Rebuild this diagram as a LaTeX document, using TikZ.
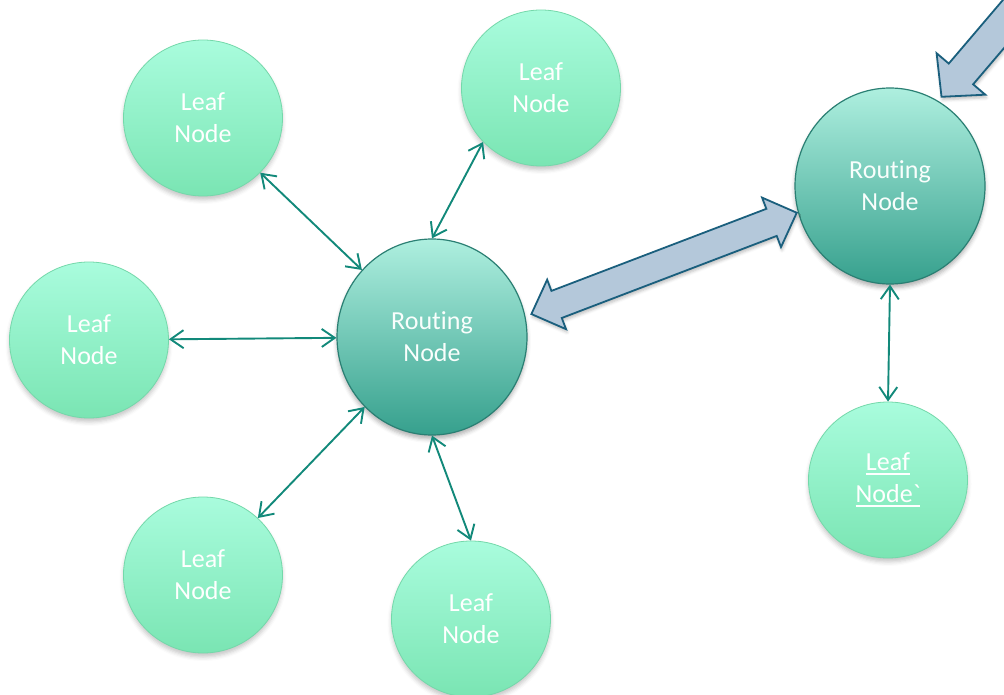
\documentclass[tikz,border=0pt]{standalone}
\usepackage{fontspec}
\newfontfamily\calib{Carlito}[RawFeature={-liga;-clig;-dlig}]
\usetikzlibrary{arrows.meta,calc,shapes.geometric,shadows.blur}

\definecolor{leaftop}{HTML}{A9FCDD}
\definecolor{leafbot}{HTML}{7AE5B3}
\definecolor{leafrim}{HTML}{74D8AA}
\definecolor{routetop}{HTML}{AEEFDF}
\definecolor{routemid}{HTML}{86D6C3}
\definecolor{routebot}{HTML}{36A08D}
\definecolor{routerim}{HTML}{2A7F73}
\definecolor{linkteal}{HTML}{12897A}
\definecolor{blockfill}{HTML}{B4C8DA}
\definecolor{blockrim}{HTML}{1A5F7D}

% underlined word with a heavier rule
\newcommand\heavyul[1]{\setbox0\hbox{#1}\rlap{\rule[-4pt]{\wd0}{1.6pt}}\box0}
% router caption, with t and i kept apart
\newcommand\routerlabel{\raisebox{-2pt}{Rout\kern0pt ing}\\\raisebox{-2pt}{Node}}

\tikzset{
  labelfont/.style={font=\calib\fontsize{26}{32}\selectfont, align=center},
  leaf/.style={ellipse, minimum width=159pt, minimum height=156pt, inner sep=0pt,
    top color=leaftop, bottom color=leafbot, draw=leafrim, line width=0.8pt,
    text=white, labelfont,
    blur shadow={shadow xshift=0pt, shadow yshift=-4pt, shadow opacity=22, shadow blur radius=4pt}},
  router/.style={ellipse, minimum width=190pt, minimum height=196pt, inner sep=0pt,
    top color=routetop, middle color=routemid, bottom color=routebot,
    draw=routerim, line width=1.2pt,
    text=white!92!routetop, labelfont,
    blur shadow={shadow xshift=0pt, shadow yshift=-4pt, shadow opacity=30, shadow blur radius=4pt}},
  link/.style={draw=linkteal, line width=1.9pt,
    {Straight Barb[length=13pt,width=18pt]}-{Straight Barb[length=13pt,width=18pt]}},
  block/.style={fill=blockfill, draw=blockrim, line width=1.8pt, line join=miter,
    blur shadow={shadow xshift=1pt, shadow yshift=-3pt, shadow opacity=25, shadow blur radius=3pt}}
}

\begin{document}
\begin{tikzpicture}[x=1pt,y=-1pt]
  \useasboundingbox (0,0) rectangle (1004,695);
  \clip (0,0) rectangle (1004,695);

  % leaf nodes
  \node[leaf] (L1) at (203,118) {Leaf\\Node};
  \node[leaf] (L2) at (541,88)  {Leaf\\Node};
  \node[leaf] (L3) at (89,340)  {Leaf\\Node};
  \node[leaf] (L4) at (203,575) {Leaf\\Node};
  \node[leaf] (L5) at (471,619) {Leaf\\Node};
  \node[leaf] (L6) at (888,480) {\heavyul{Leaf}\\\heavyul{Node`}};

  % routing nodes
  \node[router] (R1) at (432,337) {\routerlabel};
  \node[router] (R2) at (890,186) {\routerlabel};

  % thin links between leaves and routers
  \draw[link] (L1) -- (R1);
  \draw[link] (L2.223) -- (R1.north);
  \draw[link] (L3) -- (R1);
  \draw[link] (L4) -- (R1);
  \draw[link] (L5.north) -- (R1.south);
  \draw[link] (R2.south) -- (L6.north);

  % block arrow between the two routers
  \coordinate (ta) at ($(R1.center)!102pt!(R1.13)$);
  \coordinate (tb) at ($(R2.center)!97pt!(R2.196)$);
  \draw[block] (ta)
    -- ($(ta)!27pt!(tb)!26.5pt!90:(tb)$)
    -- ($(ta)!27pt!(tb)!14.5pt!90:(tb)$)
    -- ($(tb)!27pt!(ta)!14.5pt!-90:(ta)$)
    -- ($(tb)!27pt!(ta)!26.5pt!-90:(ta)$)
    -- (tb)
    -- ($(tb)!27pt!(ta)!26.5pt!90:(ta)$)
    -- ($(tb)!27pt!(ta)!14.5pt!90:(ta)$)
    -- ($(ta)!27pt!(tb)!14.5pt!-90:(tb)$)
    -- ($(ta)!27pt!(tb)!26.5pt!-90:(tb)$)
    -- cycle;

  % incoming block arrow into the right router
  \coordinate (feed) at (1075,-60);
  \coordinate (tc) at ($(R2.center)!103pt!(R2.60)$);
  \draw[block] (tc)
    -- ($(tc)!30pt!(feed)!32pt!90:(feed)$)
    -- ($(tc)!30pt!(feed)!16pt!90:(feed)$)
    -- ($(feed)!16pt!-90:(tc)$)
    -- ($(feed)!16pt!90:(tc)$)
    -- ($(tc)!30pt!(feed)!16pt!-90:(feed)$)
    -- ($(tc)!30pt!(feed)!32pt!-90:(feed)$)
    -- cycle;
\end{tikzpicture}
\end{document}
